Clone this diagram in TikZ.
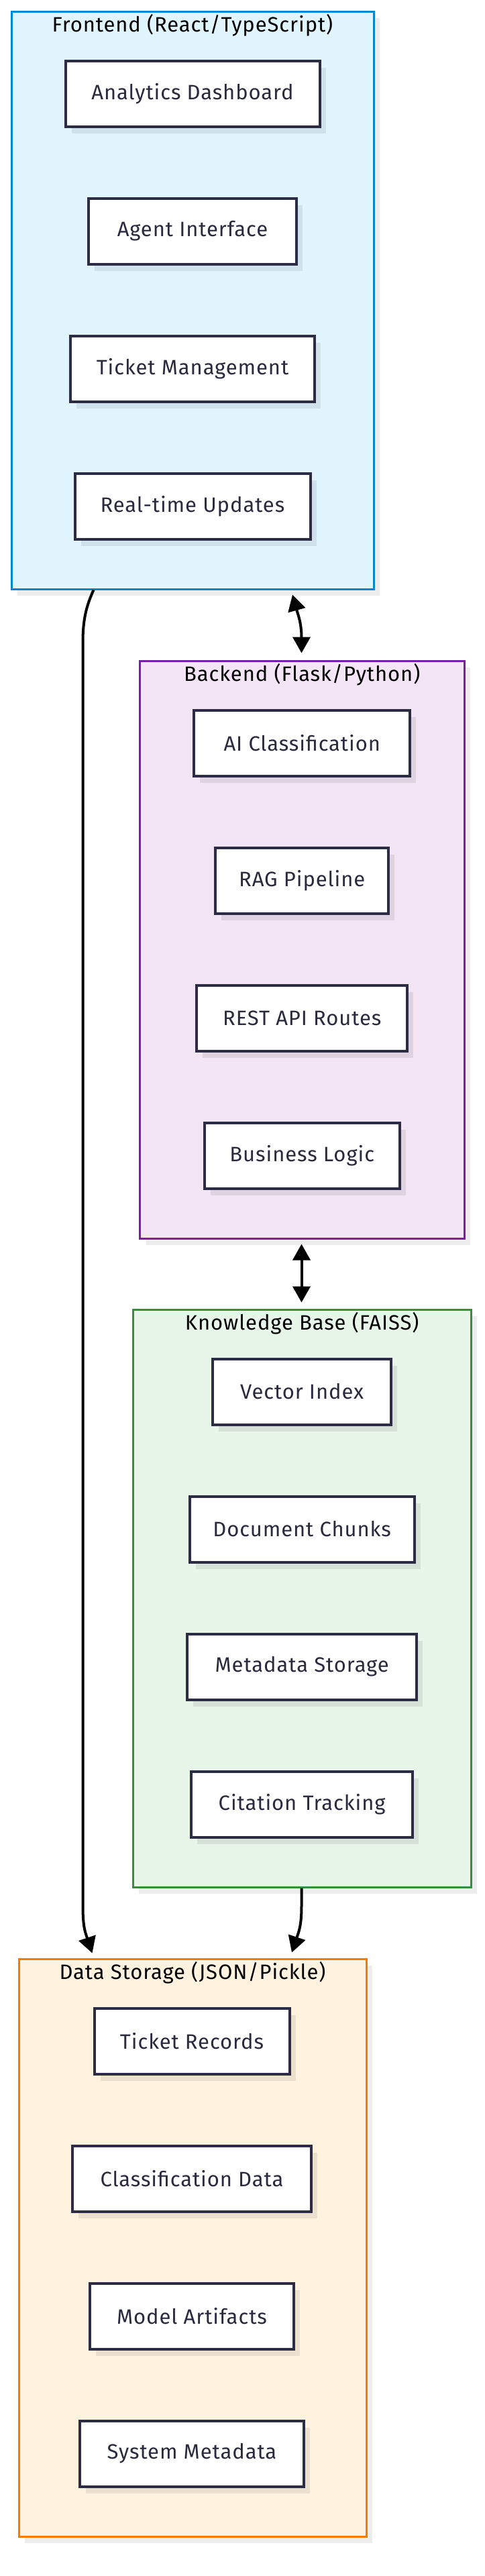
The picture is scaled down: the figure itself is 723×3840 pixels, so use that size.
\documentclass[tikz,border=0pt]{standalone}
\usepackage{fontspec}
\setmainfont[LetterSpace=3]{Fira Sans}
\usetikzlibrary{calc,arrows.meta,shadows}
\definecolor{feFill}{HTML}{E1F5FE}
\definecolor{feLine}{HTML}{0288D1}
\definecolor{beFill}{HTML}{F3E5F5}
\definecolor{beLine}{HTML}{7B1FA2}
\definecolor{kbFill}{HTML}{E8F5E9}
\definecolor{kbLine}{HTML}{388E3C}
\definecolor{dsFill}{HTML}{FFF3E0}
\definecolor{dsLine}{HTML}{F57C00}
\definecolor{nodeLine}{HTML}{2C2C44}
\definecolor{nodeText}{HTML}{2A2A3E}
\begin{document}
\begin{tikzpicture}[x=0.5pt,y=-0.5pt,
  every node/.style={font=\fontsize{15.5}{18}\selectfont},
  cluster/.style={rectangle, line width=1.5pt, minimum height=430.5pt, inner sep=0pt,
    drop shadow={shadow xshift=4.5pt, shadow yshift=-5pt, opacity=0.07, fill=black}},
  box/.style={rectangle, draw=nodeLine, line width=2pt, fill=white, text=nodeText,
    minimum height=49pt, inner sep=0pt,
    drop shadow={shadow xshift=4.5pt, shadow yshift=-5pt, opacity=0.08, fill=black}},
  title/.style={text=black, inner sep=0pt},
  link/.style={draw=black, line width=2pt},
  >={Triangle[length=12pt,width=13pt]}]
\fill[white] (0,0) rectangle (723,3840);
\useasboundingbox (0,0) rectangle (723,3840);

% clusters
\node[cluster, draw=feLine, fill=feFill, minimum width=270pt] (fe) at (287,447.5) {};
\node[cluster, draw=beLine, fill=beFill, minimum width=241.75pt] (be) at (450.25,1415.5) {};
\node[cluster, draw=kbLine, fill=kbFill, minimum width=251.85pt] (kb) at (450.15,2382.5) {};
\node[cluster, draw=dsLine, fill=dsFill, minimum width=259pt] (ds) at (287,3350.5) {};

% titles
\node[title] (feT) at ($(fe.north)+(0,22)$) {Frontend (React/TypeScript)};
\node[title] (beT) at ($(be.north)+(0,22)$) {Backend (Flask/Python)};
\node[title] (kbT) at ($(kb.north)+(0,22)$) {Knowledge Base (FAISS)};
\node[title] (dsT) at ($(ds.north)+(0,22)$) {Data Storage (JSON/Pickle)};

% frontend
\node[box, minimum width=189.5pt] (fe1) at ($(fe.north)+(0,124)$) {Analytics Dashboard};
\node[box, minimum width=155pt]   (fe2) at ($(fe.north)+(0,329)$) {Agent Interface};
\node[box, minimum width=182pt]   (fe3) at ($(fe.north)+(0,534)$) {Ticket Management};
\node[box, minimum width=175.5pt] (fe4) at ($(fe.north)+(0,739)$) {Real-time Updates};
% backend
\node[box, minimum width=161pt]   (be1) at ($(be.north)+(0,124)$) {AI Classification};
\node[box, minimum width=129pt]   (be2) at ($(be.north)+(0,329)$) {RAG Pipeline};
\node[box, minimum width=157pt]   (be3) at ($(be.north)+(0,534)$) {REST API Routes};
\node[box, minimum width=145.5pt] (be4) at ($(be.north)+(0,739)$) {Business Logic};
% knowledge base
\node[box, minimum width=133pt]   (kb1) at ($(kb.north)+(0,124)$) {Vector Index};
\node[box, minimum width=167.5pt] (kb2) at ($(kb.north)+(0,329)$) {Document Chunks};
\node[box, minimum width=171pt]   (kb3) at ($(kb.north)+(0,534)$) {Metadata Storage};
\node[box, minimum width=165pt]   (kb4) at ($(kb.north)+(0,739)$) {Citation Tracking};
% data storage
\node[box, minimum width=145.5pt] (ds1) at ($(ds.north)+(-1,124)$) {Ticket Records};
\node[box, minimum width=178pt]   (ds2) at ($(ds.north)+(-1,329)$) {Classification Data};
\node[box, minimum width=152pt]   (ds3) at ($(ds.north)+(-1,534)$) {Model Artifacts};
\node[box, minimum width=167pt]   (ds4) at ($(ds.north)+(-1,739)$) {System Metadata};

% connectors
\draw[link, <->] ($(fe.south)+(149,7)$) .. controls ($(fe.south)+(157,36)$) and ($(be.north)+(-0.75,-55)$) .. ($(be.north)+(-0.75,-10)$);
\draw[link, <->] ($(be.south)+(-0.75,7)$) -- ($(kb.north)+(-0.65,-9)$);
\draw[link, ->] ($(kb.south)+(-0.65,0)$) -- ($(kb.south)+(-0.65,27)$)
   .. controls ($(kb.south)+(-0.65,57)$) and ($(ds.north)+(158,-38)$) .. ($(ds.north)+(148,-8)$);
\draw[link, ->] ($(fe.south west)+(124,0)$) .. controls ($(fe.south west)+(115,20)$) and ($(fe.south west)+(108,40)$) .. ($(fe.south west)+(108,77)$)
   -- ($(ds.north west)+(97,-77)$)
   .. controls ($(ds.north west)+(97,-45)$) and ($(ds.north west)+(101,-37)$) .. ($(ds.north west)+(111,-7)$);
\end{tikzpicture}
\end{document}
